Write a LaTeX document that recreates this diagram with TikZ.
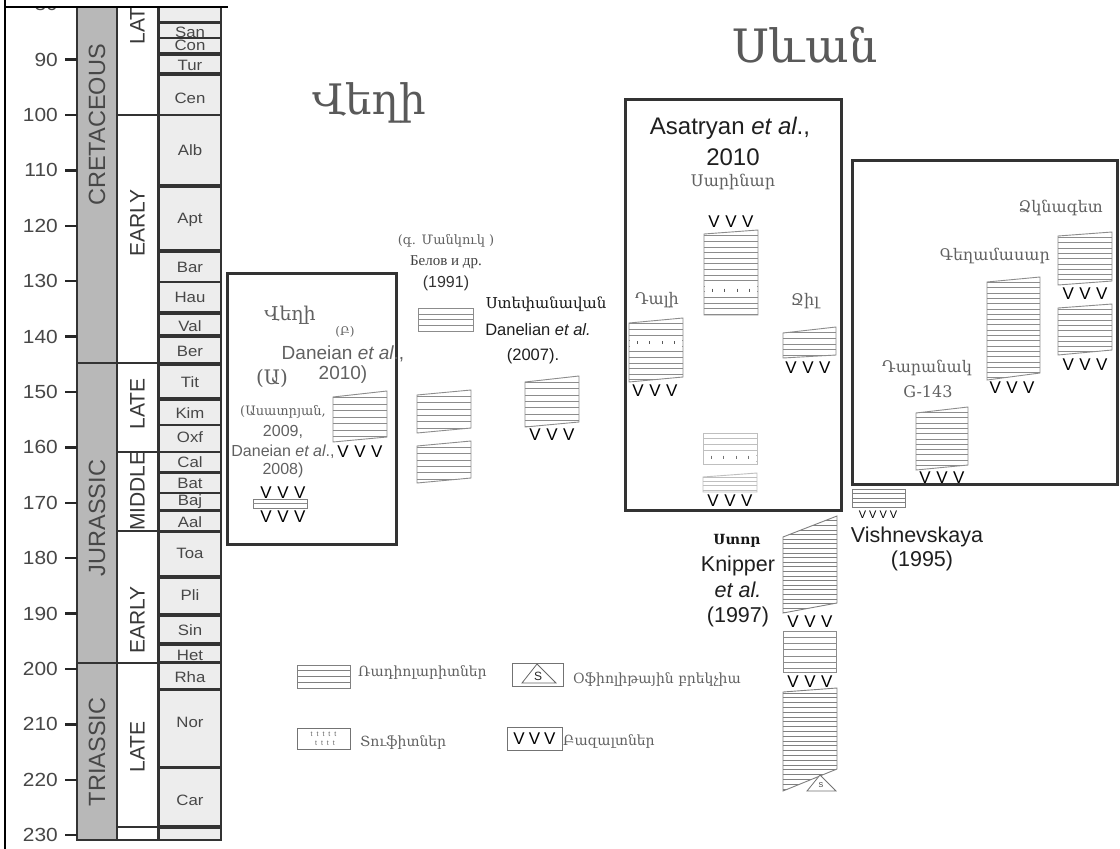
\documentclass[tikz,border=0pt]{standalone}
\usepackage{fontspec}
\setmainfont{Liberation Sans}
\newfontfamily\arm{DejaVu Serif}
\newfontfamily\rus{Liberation Serif}
\newcommand\fs[1]{\fontsize{#1}{#1}\selectfont}
\newcommand\vvv{V\hspace{5.5pt}V\hspace{5.5pt}V}
% column with radiolarite hatching: x1 x2 yTL yTR yBL yBR spacing color
\newcommand\radcol[8]{%
  \begin{scope}
    \clip (#1,#3) -- (#2,#4) -- (#2,#6) -- (#1,#5) -- cycle;
    \foreach \k in {1,...,40}
      \draw[draw=#8, line width=0.6pt] (#1,{min(#3,#4)+\k*#7}) -- (#2,{min(#3,#4)+\k*#7});
  \end{scope}
  \draw[draw=#8, line width=0.9pt] (#1,#3) -- (#2,#4) -- (#2,#6) -- (#1,#5) -- cycle;}
% tuff marks: x1 x2 y n color
\newcommand\tuffrow[5]{%
  \foreach \i in {1,...,#4}
    \draw[draw=#5, line width=0.9pt] ({#1+(#2-#1)*(\i-0.5)/#4},{#3-1.5}) -- ({#1+(#2-#1)*(\i-0.5)/#4},{#3+1.5});}
\begin{document}
\begin{tikzpicture}[x=1pt,y=-1pt,
  tsline/.style={draw=black!80, line width=1.6pt},
  stagebox/.style={tsline, fill=black!7},
  epochbox/.style={tsline, fill=white},
  periodbox/.style={tsline, fill=black!28},
  stagelab/.style={text=black!72, font=\fs{15}, inner sep=0, xscale=1.12},
  agelab/.style={text=black!72, font=\fs{19}, inner sep=0, anchor=east, xscale=1.1},
  perlab/.style={text=black!72, font=\fs{23.5}, inner sep=0, rotate=90},
  eplab/.style={text=black!78, font=\fs{21}, inner sep=0, rotate=90},
  bigbox/.style={draw=black!80, line width=3pt},
  armg/.style={text=black!62, font=\arm\fs{16}, inner sep=0, align=center},
  latg/.style={text=black!62, font=\fs{19}, inner sep=0, align=center},
  latd/.style={text=black!88, font=\fs{21.5}, inner sep=0, align=center},
  vv/.style={text=black, font=\fs{17}, inner sep=0},
  hatch/.style={black!45}
]
\useasboundingbox (0,0) rectangle (1120,849);
\fill[white] (0,0) rectangle (1120,849);

% ---------------- time scale ----------------
\begin{scope}
\clip (5,7) rectangle (240,849);
\draw[periodbox] (77,-5) rectangle (117,363);
\draw[periodbox] (77,363) rectangle (117,663);
\draw[periodbox] (77,663) rectangle (117,840);
\draw[epochbox] (117,-5) rectangle (158,115);
\draw[epochbox] (117,115) rectangle (158,363);
\draw[epochbox] (117,363) rectangle (158,452);
\draw[epochbox] (117,452) rectangle (158,531);
\draw[epochbox] (117,531) rectangle (158,663);
\draw[epochbox] (117,663) rectangle (158,827);
\draw[epochbox] (117,827) rectangle (158,840);
\foreach \t/\b/\l/\ly in {-5/22//10, 23/38/San/32, 38/53/Con/45, 55/73/Tur/65,
   75/115/Cen/98, 115/185/Alb/150, 187/250/Apt/220, 252/282/Bar/267,
   282/312/Hau/297, 314/335/Val/326, 337/363/Ber/351, 365/398/Tit/382,
   400/425/Kim/413, 425/452/Oxf/437, 452/472/Cal/462, 473/493/Bat/483,
   493/510/Baj/502, 511/531/Aal/522, 532/576/Toa/553, 578/614/Pli/595,
   616/643/Sin/630, 645/662/Het/655, 663/689/Rha/677, 690/767/Nor/722,
   768/826/Car/800, 828/840//834}
{
  \draw[stagebox] (159,\t) rectangle (221,\b);
  \node[stagelab] (st\l) at (190,\ly) {\l};
}
\node[perlab] (pK) at (97,125) {CRETACEOUS};
\node[perlab] (pJ) at (97,518) {JURASSIC};
\node[perlab] (pT) at (97,752) {TRIASSIC};
\node[eplab] (eKL) at (137.5,19) {LATE};
\node[eplab] (eKE) at (137.5,223) {EARLY};
\node[eplab] (eJL) at (137.5,404) {LATE};
\node[eplab] (eJM) at (137.5,491) {MIDDLE};
\node[eplab] (eJE) at (137.5,620) {EARLY};
\node[eplab] (eTL) at (137.5,747) {LATE};
\foreach \a in {80,90,...,230}
{
  \pgfmathsetmacro\yy{115+(\a-100)*5.54}
  \draw[draw=black!85, line width=2.5pt] (65,\yy) -- (77,\yy);
  \node[agelab] (age\a) at (58,\yy) {\a};
}
\end{scope}
\draw[draw=black, line width=2pt] (5,0) -- (5,849);
\draw[draw=black, line width=2pt] (4,7) -- (228,7);

% ---------------- titles ----------------
\node[text=black!65, font=\arm\fs{42}, inner sep=0] (tVehi) at (369,103) {Վեղի};
\node[text=black!65, font=\arm\fs{46}, inner sep=0] (tSevan) at (805,45) {Սևան};

% ---------------- box A (Vehi) ----------------
\draw[bigbox] (227,273) rectangle (396,544);
\node[armg, font=\arm\fs{19}] (aVehi) at (290,315) {Վեղի};
\node[armg, font=\arm\fs{12}] (aB) at (345,332) {(Բ)};
\node[latg] (aDan) at (343,354) {Daneian \textit{et al}.,};
\node[latg] (a2010) at (343,375) {2010)};
\node[armg, font=\arm\fs{20}] (aA) at (272,378) {(Ա)};
\node[armg, font=\arm\fs{13}] (aAs) at (283,412) {(Ասատրյան,};
\node[latg, font=\fs{16}] (a2009) at (283,432) {2009,};
\node[latg, font=\fs{16}] (aDan2) at (283,452) {Daneian \textit{et al}.,};
\node[latg, font=\fs{16}] (a2008) at (283,470) {2008)};
\node[vv] (aV1) at (360,452) {\vvv};
\radcol{333}{387}{397}{391}{442}{437}{6.5}{black!45}
\node[vv] (aV2) at (283,493) {\vvv};
\draw[draw=black!50, line width=0.9pt, fill=white] (253,499) rectangle (307,508);
\draw[draw=black!45, line width=0.6pt] (253,503.5) -- (307,503.5);
\node[vv] (aV3) at (283,517) {\vvv};

% ---------------- middle group ----------------
\node[armg, font=\arm\fs{13}] (mMank) at (446,241) {(գ. Մանկուկ )};
\node[text=black!75, font=\rus\fs{15}, inner sep=0] (mBel) at (446,262) {Белов и др.};
\node[latg, font=\fs{16}, text=black!80] (m1991) at (446,283) {(1991)};
\radcol{418}{473}{308}{308}{331}{331}{5.8}{black!45}
\radcol{417}{471}{395}{390}{433}{428}{6.3}{black!45}
\radcol{417}{471}{446}{441}{483}{478}{6.3}{black!45}
\node[text=black!90, font=\arm\fs{15}, inner sep=0] (mStep) at (546,304) {Ստեփանավան};
\node[latd, font=\fs{16.5}] (mDan) at (538,330) {Danelian \textit{et al.}};
\node[latd, font=\fs{16.5}] (m2007) at (533,356) {(2007).};
\radcol{525}{579}{382}{376}{427}{422}{6.3}{black!45}
\node[vv] (mV) at (552,435) {\vvv};

% ---------------- box B (Asatryan) ----------------
\draw[bigbox] (625,99) rectangle (841,510);
\node[latd, font=\fs{24}] (bAs) at (730,128) {Asatryan \textit{et al}.,};
\node[latd, font=\fs{24}] (b2010) at (733,157) {2010};
\node[armg, font=\arm\fs{16}] (bSar) at (733,182) {Սարինար};
\node[vv] (bV1) at (731,222) {\vvv};
\radcol{704}{758}{234}{230}{315}{315}{5.6}{black!45}
\fill[white] (705,285) rectangle (757,295);
\tuffrow{706}{756}{290}{4}{black!65}
\node[armg, font=\arm\fs{16}] (bDal) at (657,300) {Դալի};
\radcol{629}{683}{323}{318}{382}{377}{5.6}{black!45}
\fill[white] (630,338) rectangle (682,347);
\tuffrow{631}{681}{342.5}{4}{black!65}
\node[vv] (bV2) at (655,391) {\vvv};
\node[armg, font=\arm\fs{16}] (bJil) at (805,301) {Ջիլ};
\radcol{783}{836}{333}{327}{358}{355}{5.6}{black!45}
\node[vv] (bV3) at (808,368) {\vvv};
\radcol{703}{757}{433}{433}{464}{464}{5.6}{black!25}
\fill[white] (704,451) rectangle (756,463);
\tuffrow{705}{755}{457}{4}{black!55}
\radcol{703}{757}{477}{473}{492}{492}{4.2}{black!25}
\node[vv] (bV4) at (730,501) {\vvv};

% ---------------- Knipper ----------------
\node[text=black!90, font=\arm\bfseries\fs{14}, inner sep=0] (kStor) at (737,541) {Ստոր};
\node[latd] (kKn) at (738,566) {Knipper};
\node[latd] (kEt) at (738,590) {\textit{et al.}};
\node[latd] (k1997) at (738,617) {(1997)};
\radcol{783}{837}{537}{516}{613}{603}{4.6}{black!50}
\node[vv] (kV1) at (810,622) {\vvv};
\radcol{783}{836}{631}{631}{672}{672}{6.2}{black!45}
\node[vv] (kV2) at (810,682) {\vvv};
\radcol{783}{837}{692}{688}{791}{769}{4.8}{black!50}
\draw[draw=black!55, line width=0.8pt, fill=white] (820,775) -- (836,791) -- (807,791) -- cycle;
\node[text=black!80, font=\fs{7}, inner sep=0] (kS) at (821,785) {S};

% ---------------- Vishnevskaya ----------------
\radcol{852}{905}{489}{489}{507}{507}{4.5}{black!50}
\node[vv, font=\fs{11}] (vV) at (878,515) {V\hspace{3pt}V\hspace{3pt}V\hspace{3pt}V};
\node[latd] (vVish) at (917,537) {Vishnevskaya};
\node[latd] (v1995) at (922,561) {(1995)};

% ---------------- box C ----------------
\draw[bigbox] (852,160) rectangle (1117,484);
\node[armg, font=\arm\fs{16}, anchor=east] (cDzk) at (1103,208) {Ձկնագետ};
\radcol{1058}{1112}{236}{232}{285}{281}{5.3}{black!45}
\node[vv] (cV1) at (1085,294) {\vvv};
\radcol{1058}{1112}{308}{304}{355}{350}{5.3}{black!45}
\node[vv] (cV2) at (1085,365) {\vvv};
\node[armg, font=\arm\fs{16}, anchor=east] (cGeg) at (1050,256) {Գեղամասար};
\radcol{987}{1040}{282}{277}{380}{373}{5.3}{black!45}
\node[vv] (cV3) at (1012,388) {\vvv};
\node[armg, font=\arm\fs{16}] (cDar) at (927,368) {Դարանակ};
\node[armg, font=\arm\fs{16}] (cG) at (928,392) {G-143};
\radcol{916}{968}{413}{407}{470}{465}{5.3}{black!45}
\node[vv] (cV4) at (942,478) {\vvv};

% ---------------- legend ----------------
\radcol{297}{350}{665}{665}{688}{688}{5.75}{black!50}
\node[armg, font=\arm\fs{14}, anchor=west] (lRad) at (358,673) {Ռադիոլարիտներ};
\draw[draw=black!55, line width=0.9pt] (512,663) rectangle (563,686);
\draw[draw=black!60, line width=0.8pt] (537,664) -- (556,683) -- (522,683) -- cycle;
\node[text=black!85, font=\fs{12}, inner sep=0] (lS) at (538,676) {S};
\node[armg, font=\arm\fs{14}, anchor=west] (lOph) at (573,680) {Օֆիոլիթային բրեկչիա};
\draw[draw=black!55, line width=0.9pt] (297,728) rectangle (350,749);
\node[text=black!60, font=\fs{7}, inner sep=0] (lt1) at (323.5,734) {t\hspace{4pt}t\hspace{4pt}t\hspace{4pt}t\hspace{4pt}t};
\node[text=black!60, font=\fs{7}, inner sep=0] (lt2) at (325,743) {t\hspace{4pt}t\hspace{4pt}t\hspace{4pt}t};
\node[armg, font=\arm\fs{14}, anchor=west] (lTuf) at (360,743) {Տուֆիտներ};
\draw[draw=black!55, line width=0.9pt] (507,727) rectangle (562,750);
\node[text=black, font=\fs{17}, inner sep=0] (lV) at (534.5,739) {V\hspace{4pt}V\hspace{4pt}V};
\node[armg, font=\arm\fs{14}, anchor=west] (lBaz) at (563,742) {Բազալտներ};
\end{tikzpicture}
\end{document}
